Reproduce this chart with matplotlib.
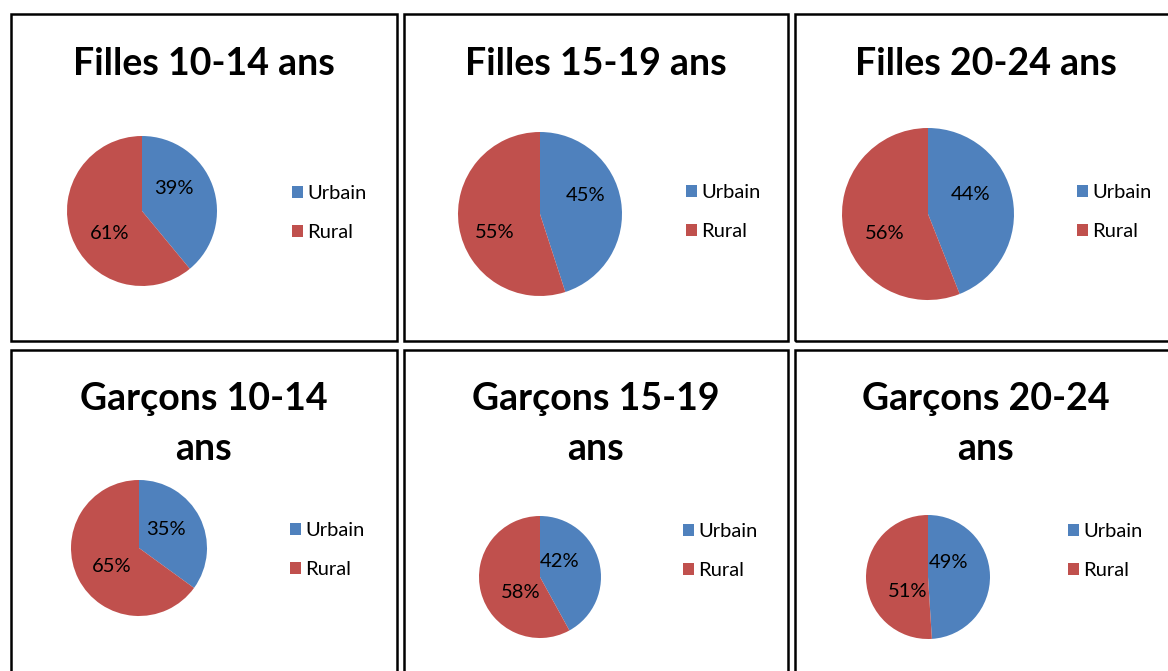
import numpy as np
import matplotlib.pyplot as plt
from matplotlib.patches import Rectangle

plt.rcParams['font.family'] = ['Lato', 'DejaVu Sans']

# data
titles = ['Filles 10-14 ans', 'Filles 15-19 ans', 'Filles 20-24 ans',
          'Garçons 10-14\nans', 'Garçons 15-19\nans', 'Garçons 20-24\nans']
categories = ['Urbain', 'Rural']
urbain = [39, 45, 44, 35, 42, 49]
rural = [61, 55, 56, 65, 58, 51]
colors = ['#4F81BD', '#C0504D']

W, H = 1168, 671
fig = plt.figure(figsize=(W / 100, H / 100), dpi=100)

# layout in pixels (x0, x1, y0, y1) of each frame
cols = [(11, 397), (404, 788), (795, 1176)]
rows = [(14, 341), (350, 682)]
# pie centre and radius, pixels
pies = [(142, 211, 75), (540, 214, 82), (928, 214, 86),
        (139, 548, 68), (540, 577, 61), (928, 577, 62)]
title_y = [64, 64, 64, 424, 424, 424]
legend_pos = [(292, 213), (686, 212), (1077, 212),
              (290, 550), (683, 551), (1068, 551)]
# data label distance (fraction of radius) and angular shift (deg)
label_dist = [0.52, 0.6, 0.55, 0.48, 0.4, 0.4]
label_shift = [15, 13, 14, 7, 24, 33]


def fx(px):
    return px / W


def fy(py):
    return 1 - py / H


for i in range(6):
    r, c = divmod(i, 3)
    x0, x1 = cols[c]
    y0, y1 = rows[r]
    fig.patches.append(Rectangle((fx(x0), fy(y1)), fx(x1 - x0), (y1 - y0) / H,
                                 transform=fig.transFigure, fill=False,
                                 edgecolor='black', linewidth=1.8))

    cx, cy, rad = pies[i]
    ax = fig.add_axes([fx(cx - rad), fy(cy + rad), fx(2 * rad), 2 * rad / H])
    wedges, texts, autotexts = ax.pie(
        [urbain[i], rural[i]], colors=colors, startangle=90, counterclock=False,
        radius=1, autopct=lambda p: f'{p:.0f}%', pctdistance=0.55,
        wedgeprops=dict(edgecolor='none'),
        textprops=dict(fontsize=14.5, color='black'))
    # move labels a bit like Excel does
    for w, t in zip(wedges, autotexts):
        ang = np.deg2rad((w.theta1 + w.theta2) / 2 + label_shift[i])
        t.set_position((label_dist[i] * np.cos(ang), label_dist[i] * np.sin(ang)))
    ax.set_xlim(-1, 1)
    ax.set_ylim(-1, 1)
    ax.set_aspect('equal')
    ax.axis('off')

    fig.text(fx((x0 + x1) / 2), fy(title_y[i]), titles[i], ha='center', va='center',
             fontsize=27, fontweight='bold', linespacing=1.6)

    lx, ly = legend_pos[i]
    fig.legend(wedges, categories, loc='center left',
               bbox_to_anchor=(fx(lx), fy(ly)), bbox_transform=fig.transFigure,
               frameon=False, fontsize=14.5, handlelength=0.55, handleheight=0.55,
               handletextpad=0.2, labelspacing=1.12, borderpad=0, borderaxespad=0)

fig.savefig('out.png', dpi=100)
